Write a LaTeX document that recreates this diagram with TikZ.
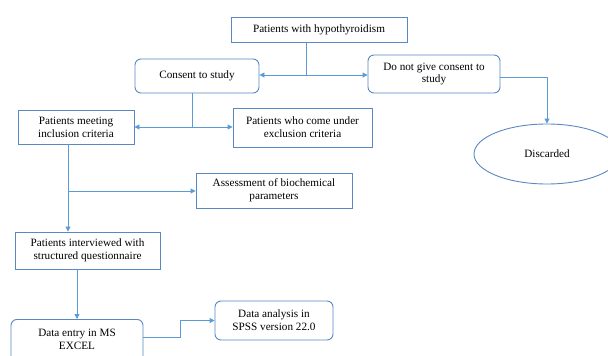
\documentclass[tikz,border=0pt]{standalone}
\usepackage{fontspec}
\setmainfont{Liberation Serif}
\usetikzlibrary{arrows.meta,shapes.geometric}
\definecolor{boxblue}{HTML}{5A88C2}
\definecolor{linkblue}{HTML}{5B9BD5}
\begin{document}
\begin{tikzpicture}[x=1pt,y=-1pt,
  every node/.style={font=\fontsize{11.2}{13}\selectfont, align=center, inner sep=0pt},
  sbox/.style={draw=boxblue, line width=0.9pt, rectangle},
  rbox/.style={draw=boxblue, line width=0.9pt, rectangle, rounded corners=6pt},
  link/.style={draw=linkblue, line width=0.9pt},
  arr/.style={link, -{Triangle[length=5pt,width=5pt]}}]
\useasboundingbox (0,0) rectangle (608,356);
\clip (0,0) rectangle (608,356);
\node[sbox, minimum width=176pt, minimum height=25pt] (hypo) at (319,29.5) {Patients with hypothyroidism};
\node[rbox, minimum width=124pt, minimum height=34pt] (consent) at (197,76) {Consent to study};
\node[rbox, minimum width=132pt, minimum height=38pt] (donot) at (434,74) {Do not give consent to\\study};
\node[draw=boxblue, line width=0.9pt, ellipse, minimum width=146pt, minimum height=60pt] (disc) at (547,154) {Discarded};
\node[sbox, minimum width=116pt, minimum height=34pt] (incl) at (76,127) {Patients meeting\\inclusion criteria};
\node[sbox, minimum width=139pt, minimum height=39pt] (excl) at (302.5,127.5) {Patients who come under\\exclusion criteria};
\node[sbox, minimum width=156pt, minimum height=35pt] (assess) at (274,190.5) {Assessment of biochemical\\parameters};
\node[sbox, minimum width=145pt, minimum height=37pt] (interv) at (87.5,250.5) {Patients interviewed with\\structured questionnaire};
\node[rbox, minimum width=132pt, minimum height=56pt, anchor=north] (entry) at (77,319) {};
\node (entrytext) at (77,339) {Data entry in MS\\EXCEL};
\node[rbox, minimum width=118pt, minimum height=39pt] (anal) at (274,320.5) {Data analysis in\\SPSS version 22.0};
% connectors
\coordinate (j1) at (306,75);
\draw[link] (hypo.south -| j1) -- (j1);
\draw[arr] (j1) -- (j1 -| consent.east);
\draw[arr] (j1) -- (j1 -| donot.west);
\draw[arr] ([yshift=-3pt]donot.east) -| (disc.north);
\coordinate (j2) at (192,127);
\draw[link] (consent.south -| j2) -- (j2);
\draw[arr] (j2) -- (j2 -| incl.east);
\draw[arr] (j2) -- (j2 -| excl.west);
\coordinate (j3) at (68,191);
\draw[arr] (incl.south -| j3) -- (interv.north -| j3);
\draw[arr] (j3) -- (j3 -| assess.west);
\coordinate (c4) at (77,0);
\draw[arr] (interv.south -| c4) -- (entry.north -| c4);
\coordinate (c5) at (180,337);
\draw[arr] (c5 -| entry.east) -- (c5) |- (anal.west);
\end{tikzpicture}
\end{document}
